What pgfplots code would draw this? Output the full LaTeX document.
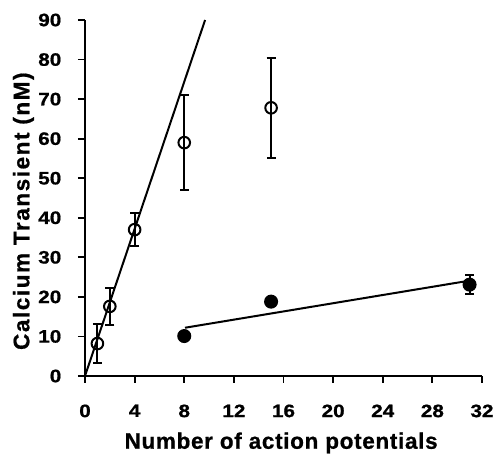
\documentclass[border=0pt]{standalone}
\usepackage{pgfplots}
\pgfplotsset{compat=1.18}
\usepackage{fontspec}
\setmainfont{Liberation Sans}[FakeBold=0.8]
\newfontfamily\ylfont{Liberation Sans}[LetterSpace=7,FakeBold=0.8]
\newfontfamily\xlfont{Liberation Sans}[LetterSpace=3,FakeBold=0.8]
\begin{document}
\begin{tikzpicture}[x=1pt,y=1pt]
\path[use as bounding box] (-85,-79) rectangle (411,376);
\begin{axis}[
  at={(0,0)}, anchor=origin,
  scale only axis, width=397pt, height=356pt,
  xmin=0, xmax=32, ymin=0, ymax=90,
  axis x line*=bottom, axis y line*=left,
  axis line style={line width=2.2pt, -},
  xtick={0,4,...,32}, ytick={0,10,...,90},
  tick align=outside, major tick length=7pt,
  tick style={line width=1.8pt, black},
  /pgf/number format/assume math mode=true,
  ticklabel style={font=\fontsize{18}{21}\selectfont\bfseries, xscale=1.15},
  xticklabel style={yshift=-18pt},
  yticklabel style={xshift=-11pt},
  xlabel={\xlfont\bfseries Number of action potentials},
  ylabel={\ylfont\bfseries Calcium Transient (nM)},
  label style={font=\fontsize{22.5}{26}\selectfont},
  xlabel style={at={(axis description cs:0.494,-0.188)}, anchor=center},
  ylabel style={at={(axis description cs:-0.155,0.463)}, anchor=center},
  clip=false,
]
% fit lines
\addplot[black, line width=2pt] coordinates {(0,0) (9.68,90)};
\addplot[black, line width=2pt] coordinates {(8.06,12.2) (30.6,23.9)};
% open circles with error bars
\addplot[black, line width=2pt, only marks, mark=o, mark size=5.8pt,
  mark options={fill=white, line width=2pt},
  error bars/.cd, y dir=both, y explicit,
  error bar style={line width=2pt},
  error mark options={rotate=90, mark size=4.5pt, line width=2pt}]
  coordinates {
  (1,8.2) +- (0,5.0)
  (2,17.6) +- (0,4.6)
  (4,37.0) +- (0,4.2)
  (8,59.0) +- (0,12.0)
  (15,67.8) +- (0,12.6)
  };
% filled circles
\addplot[black, line width=2pt, only marks, mark=*, mark size=6pt,
  mark options={fill=black},
  error bars/.cd, y dir=both, y explicit,
  error bar style={line width=2pt},
  error mark options={rotate=90, mark size=4.5pt, line width=2pt}]
  coordinates {
  (8,10.1) +- (0,0)
  (15,18.8) +- (0,0)
  (31,23.1) +- (0,2.4)
  };
\end{axis}
\end{tikzpicture}
\end{document}
